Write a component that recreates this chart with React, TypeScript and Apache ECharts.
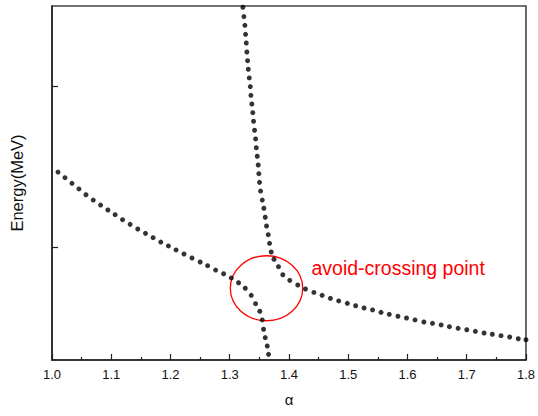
import React, { useEffect, useRef } from "react";
import * as echarts from "echarts";

// Upper branch (steep from top, then flattening to the right)
const upperAlpha = [
  1.3222, 1.3239, 1.3256, 1.3267, 1.3279, 1.3289, 1.3301, 1.3313, 1.333, 1.3347,
  1.3357, 1.3373, 1.3389, 1.3402, 1.3419, 1.3436, 1.3448, 1.3464, 1.3481, 1.3491,
  1.3503, 1.352, 1.3549, 1.3576, 1.3599, 1.3621, 1.365, 1.3672, 1.37, 1.3747,
  1.3823, 1.3896, 1.4013, 1.4148, 1.4278, 1.4421, 1.4559, 1.4699, 1.4839, 1.4985,
  1.5125, 1.5267, 1.5411, 1.5553, 1.5693, 1.5839, 1.5984, 1.6127, 1.6277, 1.6422,
  1.6568, 1.6708, 1.6855, 1.7001, 1.7146, 1.7293, 1.7432, 1.7579, 1.7725, 1.787,
  1.8,
];
const upperEnergy = [
  1.492, 1.434, 1.38, 1.324, 1.27, 1.214, 1.16, 1.107, 1.053, 0.999,
  0.945, 0.891, 0.837, 0.784, 0.728, 0.674, 0.619, 0.566, 0.512, 0.458,
  0.404, 0.35, 0.294, 0.243, 0.187, 0.133, 0.079, 0.025, -0.029, -0.074,
  -0.12, -0.17, -0.205, -0.234, -0.259, -0.28, -0.298, -0.317, -0.333, -0.348,
  -0.363, -0.377, -0.389, -0.404, -0.416, -0.428, -0.439, -0.451, -0.464, -0.472,
  -0.482, -0.493, -0.503, -0.512, -0.522, -0.532, -0.54, -0.549, -0.557, -0.568,
  -0.574,
];

// Lower branch (shallow from left, then dropping steeply)
const lowerAlpha = [
  1.0101, 1.0219, 1.0337, 1.0455, 1.0573, 1.0696, 1.082, 1.0943, 1.1066, 1.1191,
  1.1319, 1.1448, 1.1578, 1.1706, 1.1836, 1.1965, 1.2094, 1.2228, 1.2363, 1.2501,
  1.2627, 1.2762, 1.2897, 1.3026, 1.3149, 1.3262, 1.3363, 1.3436, 1.3508, 1.3549,
  1.3571, 1.3599, 1.3633, 1.3655,
];
const lowerEnergy = [
  0.468, 0.433, 0.398, 0.363, 0.327, 0.294, 0.263, 0.232, 0.203, 0.172,
  0.143, 0.114, 0.087, 0.06, 0.033, 0.009, -0.016, -0.041, -0.066, -0.091,
  -0.114, -0.141, -0.164, -0.19, -0.22, -0.254, -0.298, -0.35, -0.397, -0.451,
  -0.509, -0.561, -0.613, -0.665,
];

// Annotation: ellipse around the avoided crossing, and its label
const ellipseCenter = [1.3621, -0.254];
const ellipseRadii = [0.0611, 0.202];
const labelText = "avoid-crossing point";
const labelAnchor = [1.4379, -0.128];

const xTicks = { min: 1.0, max: 1.8, interval: 0.1 };
const yRange = { min: -0.7, max: 1.5 };
const yTickValues = [0, 1];

const FONT = "Liberation Sans, Arial, Helvetica, sans-serif";

export default function App() {
  const ref = useRef<HTMLDivElement>(null);
  useEffect(() => {
    if (!ref.current) return;
    const chart = echarts.init(ref.current, null, { renderer: "svg" });
    const upper = upperAlpha.map((a, i) => [a, upperEnergy[i]]);
    const lower = lowerAlpha.map((a, i) => [a, lowerEnergy[i]]);
    const axisLine = { show: true, onZero: false, lineStyle: { color: "#222", width: 1.5 } };
    chart.setOption({
      animation: false,
      backgroundColor: "#fff",
      grid: {
        left: 52,
        right: 11,
        top: 6,
        bottom: 56,
        show: true,
        borderColor: "#444",
        borderWidth: 1.6,
      },
      xAxis: {
        type: "value",
        min: xTicks.min,
        max: xTicks.max,
        interval: xTicks.interval,
        name: "α",
        nameLocation: "middle",
        nameGap: 32,
        nameTextStyle: { fontFamily: FONT, fontSize: 15, color: "#111" },
        axisLine,
        axisTick: { show: true, inside: true, length: 6, lineStyle: { color: "#222", width: 1.2 } },
        minorTick: { show: true, splitNumber: 2, length: 3, lineStyle: { color: "#222", width: 1.2 } },
        splitLine: { show: false },
        axisLabel: {
          fontFamily: FONT,
          fontSize: 13,
          color: "#111",
          margin: 8,
          formatter: (v: number) => v.toFixed(1),
        },
      },
      yAxis: {
        type: "value",
        min: yRange.min,
        max: yRange.max,
        name: "Energy(MeV)",
        nameLocation: "middle",
        nameGap: 27,
        nameTextStyle: { fontFamily: FONT, fontSize: 16.5, color: "#111" },
        axisLine,
        axisTick: {
          show: true,
          inside: true,
          length: 6,
          customValues: yTickValues,
          lineStyle: { color: "#222", width: 1.2 },
        },
        axisLabel: { show: false },
        splitLine: { show: false },
      },
      series: [
        {
          type: "scatter",
          data: upper,
          symbol: "circle",
          symbolSize: 5,
          itemStyle: { color: "#000" },
          silent: true,
        },
        {
          type: "scatter",
          data: lower,
          symbol: "circle",
          symbolSize: 5,
          itemStyle: { color: "#000" },
          silent: true,
        },
        {
          type: "custom",
          coordinateSystem: "cartesian2d",
          silent: true,
          clip: false,
          data: [[ellipseCenter[0], ellipseCenter[1]]],
          renderItem: (_params: any, api: any) => {
            const c = api.coord([api.value(0), api.value(1)]);
            const s = api.size([ellipseRadii[0], ellipseRadii[1]]);
            const t = api.coord([labelAnchor[0], labelAnchor[1]]);
            return {
              type: "group",
              children: [
                {
                  type: "ellipse",
                  shape: { cx: c[0], cy: c[1], rx: s[0], ry: s[1] },
                  style: { fill: "none", stroke: "#ff0000", lineWidth: 1.3 },
                },
                {
                  type: "text",
                  x: t[0],
                  y: t[1],
                  style: {
                    text: labelText,
                    fill: "#ff0000",
                    fontSize: 19.5,
                    fontFamily: FONT,
                    align: "left",
                    verticalAlign: "middle",
                  },
                },
              ],
            };
          },
        },
      ],
    });
    return () => chart.dispose();
  }, []);
  return (
    <div
      ref={ref}
      style={{ position: "fixed", left: 0, top: 0, width: 538, height: 416 }}
    />
  );
}
